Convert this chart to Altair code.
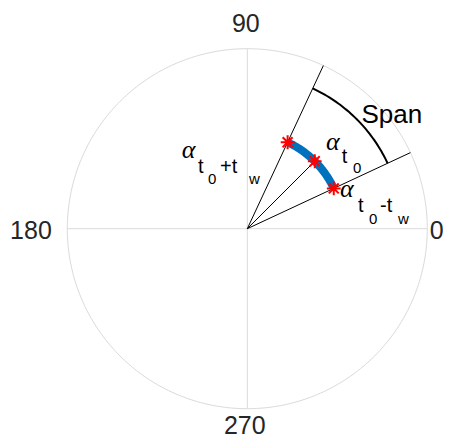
import altair as alt
import pandas as pd

# ---------------- data ----------------
TICK_ANGLES = [0, 90, 180, 270]
TICK_LABELS = ["0", "90", "180", "270"]
R_MAX = 1.0

RAY_ANGLES = [25, 45, 65]
RAY_LENGTHS = [1.0, 0.53, 1.0]

SAMPLE_ANGLES = [25, 45, 65]
SAMPLE_RADII = [0.53, 0.53, 0.53]

ARC_START, ARC_END, ARC_R = 25, 65, 0.53
SPAN_START, SPAN_END, SPAN_R = 25, 65, 0.86

# annotation anchors (data units) for the alpha labels and "Span"
ALPHA_ANCHOR_X = [0.437, 0.515, -0.364]
ALPHA_ANCHOR_Y = [0.437, 0.178, 0.391]
SPAN_X, SPAN_Y = 0.634, 0.589

# ---------------- layout ----------------
W, H = 436, 431
CX, CY = 239.3, 220.7      # centre of the polar frame, px
PX = 180.0                  # px per unit radius
XD = [-CX / PX, (W - CX) / PX]
YD = [-(H - CY) / PX, CY / PX]

xs = alt.Scale(domain=XD, nice=False, zero=False)
ys = alt.Scale(domain=YD, nice=False, zero=False)
X = alt.X("x:Q", scale=xs, axis=None)
Y = alt.Y("y:Q", scale=ys, axis=None)

GRID = "#dadada"
TXT = "#262626"
RAD = "datum.deg*PI/180"

# circle
circle = alt.Chart(alt.sequence(0, 361, 1, as_="deg")).transform_calculate(
    x=f"{R_MAX}*cos({RAD})", y=f"{R_MAX}*sin({RAD})"
).mark_line(color=GRID, strokeWidth=1).encode(x=X, y=Y, order="deg:Q")

# diameters
diam = alt.Chart(pd.DataFrame({"deg": [0, 90]})).transform_calculate(
    x=f"{R_MAX}*cos({RAD})", y=f"{R_MAX}*sin({RAD})",
    x2=f"-{R_MAX}*cos({RAD})", y2=f"-{R_MAX}*sin({RAD})"
).mark_rule(color=GRID, strokeWidth=1).encode(x=X, y=Y, x2="x2:Q", y2="y2:Q")

# rays
rays = alt.Chart(pd.DataFrame({"deg": RAY_ANGLES, "len": RAY_LENGTHS})).transform_calculate(
    x0="0", y0="0", x=f"datum.len*cos({RAD})", y=f"datum.len*sin({RAD})"
).mark_rule(color="black", strokeWidth=1).encode(
    x=alt.X("x0:Q", scale=xs, axis=None), y=alt.Y("y0:Q", scale=ys, axis=None),
    x2="x:Q", y2="y:Q"
)

# highlighted (blue) arc
arc = alt.Chart(alt.sequence(ARC_START, ARC_END + 0.5, 1, as_="deg")).transform_calculate(
    x=f"{ARC_R}*cos({RAD})", y=f"{ARC_R}*sin({RAD})"
).mark_line(color="#0072BD", strokeWidth=8, strokeCap="butt").encode(x=X, y=Y, order="deg:Q")

# span arc
span = alt.Chart(alt.sequence(SPAN_START, SPAN_END + 0.5, 1, as_="deg")).transform_calculate(
    x=f"{SPAN_R}*cos({RAD})", y=f"{SPAN_R}*sin({RAD})"
).mark_line(color="black", strokeWidth=2).encode(x=X, y=Y, order="deg:Q")

# sample markers (asterisks)
STAR = "M-1,0L1,0M0,-1L0,1M-0.72,-0.72L0.72,0.72M-0.72,0.72L0.72,-0.72"
stars = alt.Chart(pd.DataFrame({"deg": SAMPLE_ANGLES, "r": SAMPLE_RADII})).transform_calculate(
    x=f"datum.r*cos({RAD})", y=f"datum.r*sin({RAD})"
).mark_point(shape=STAR, size=190, filled=False, color="#ff0000", strokeWidth=2, opacity=1).encode(x=X, y=Y)

# tick labels
ticks_df = pd.DataFrame({"deg": TICK_ANGLES, "label": TICK_LABELS})
tick_style = {
    0: dict(align="left", baseline="alphabetic", dx=2.5, dy=10),
    90: dict(align="center", baseline="alphabetic", dx=-1.5, dy=-17),
    180: dict(align="right", baseline="alphabetic", dx=-15.5, dy=10),
    270: dict(align="center", baseline="alphabetic", dx=-2.5, dy=25),
}
tick_layers = []
for a in TICK_ANGLES:
    tick_layers.append(
        alt.Chart(ticks_df).transform_filter(f"datum.deg == {a}").transform_calculate(
            x=f"{R_MAX}*cos({RAD})", y=f"{R_MAX}*sin({RAD})"
        ).mark_text(font="Liberation Sans", fontSize=25, color=TXT, **tick_style[a]).encode(
            x=X, y=Y, text="label:N"
        )
    )

# alpha labels
alpha_df = pd.DataFrame({"x": ALPHA_ANCHOR_X, "y": ALPHA_ANCHOR_Y, "t": ["α"] * 3})
alpha = alt.Chart(alpha_df).mark_text(
    font="Liberation Serif", fontStyle="italic", fontSize=26, color="black",
    align="left", baseline="alphabetic"
).encode(x=X, y=Y, text="t:N")

# subscripts: (label index, text, dx px, dy px, font size)
SUB_TEXT = ["t", "0",
            "t", "0", "-t", "w",
            "t", "0", "+t", "w"]
SUB_OF = [0, 0, 1, 1, 1, 1, 2, 2, 2, 2]
SUB_DX = [15.7, 27, 18, 29, 40, 58, 16.3, 26.3, 38.3, 67.3]
SUB_DY = [13, 23, 15, 27.5, 15, 27.5, 15, 26, 15, 26]
SUB_SIZE = [20, 15, 20, 15, 20, 15, 20, 15, 20, 15]
sub_df = pd.DataFrame({
    "t": SUB_TEXT,
    "x": [ALPHA_ANCHOR_X[i] + dx / PX for i, dx in zip(SUB_OF, SUB_DX)],
    "y": [ALPHA_ANCHOR_Y[i] - dy / PX for i, dy in zip(SUB_OF, SUB_DY)],
    "s": SUB_SIZE,
})
subs = alt.Chart(sub_df).mark_text(
    font="Liberation Sans", color="black", align="left", baseline="alphabetic"
).encode(x=X, y=Y, text="t:N", size=alt.Size("s:Q", scale=None, legend=None))

span_lbl = alt.Chart(pd.DataFrame({"x": [SPAN_X], "y": [SPAN_Y], "t": ["Span"]})).mark_text(
    font="Liberation Sans", fontSize=26, color="black", align="left", baseline="alphabetic"
).encode(x=X, y=Y, text="t:N")

chart = alt.layer(
    circle, diam, rays, span, arc, stars, *tick_layers, alpha, subs, span_lbl
).properties(
    width=W, height=H, padding=0,
    autosize=alt.AutoSizeParams(type="none"),
).configure_view(stroke=None)

chart.save("out.html", embed_options={"renderer": "svg", "actions": False})
